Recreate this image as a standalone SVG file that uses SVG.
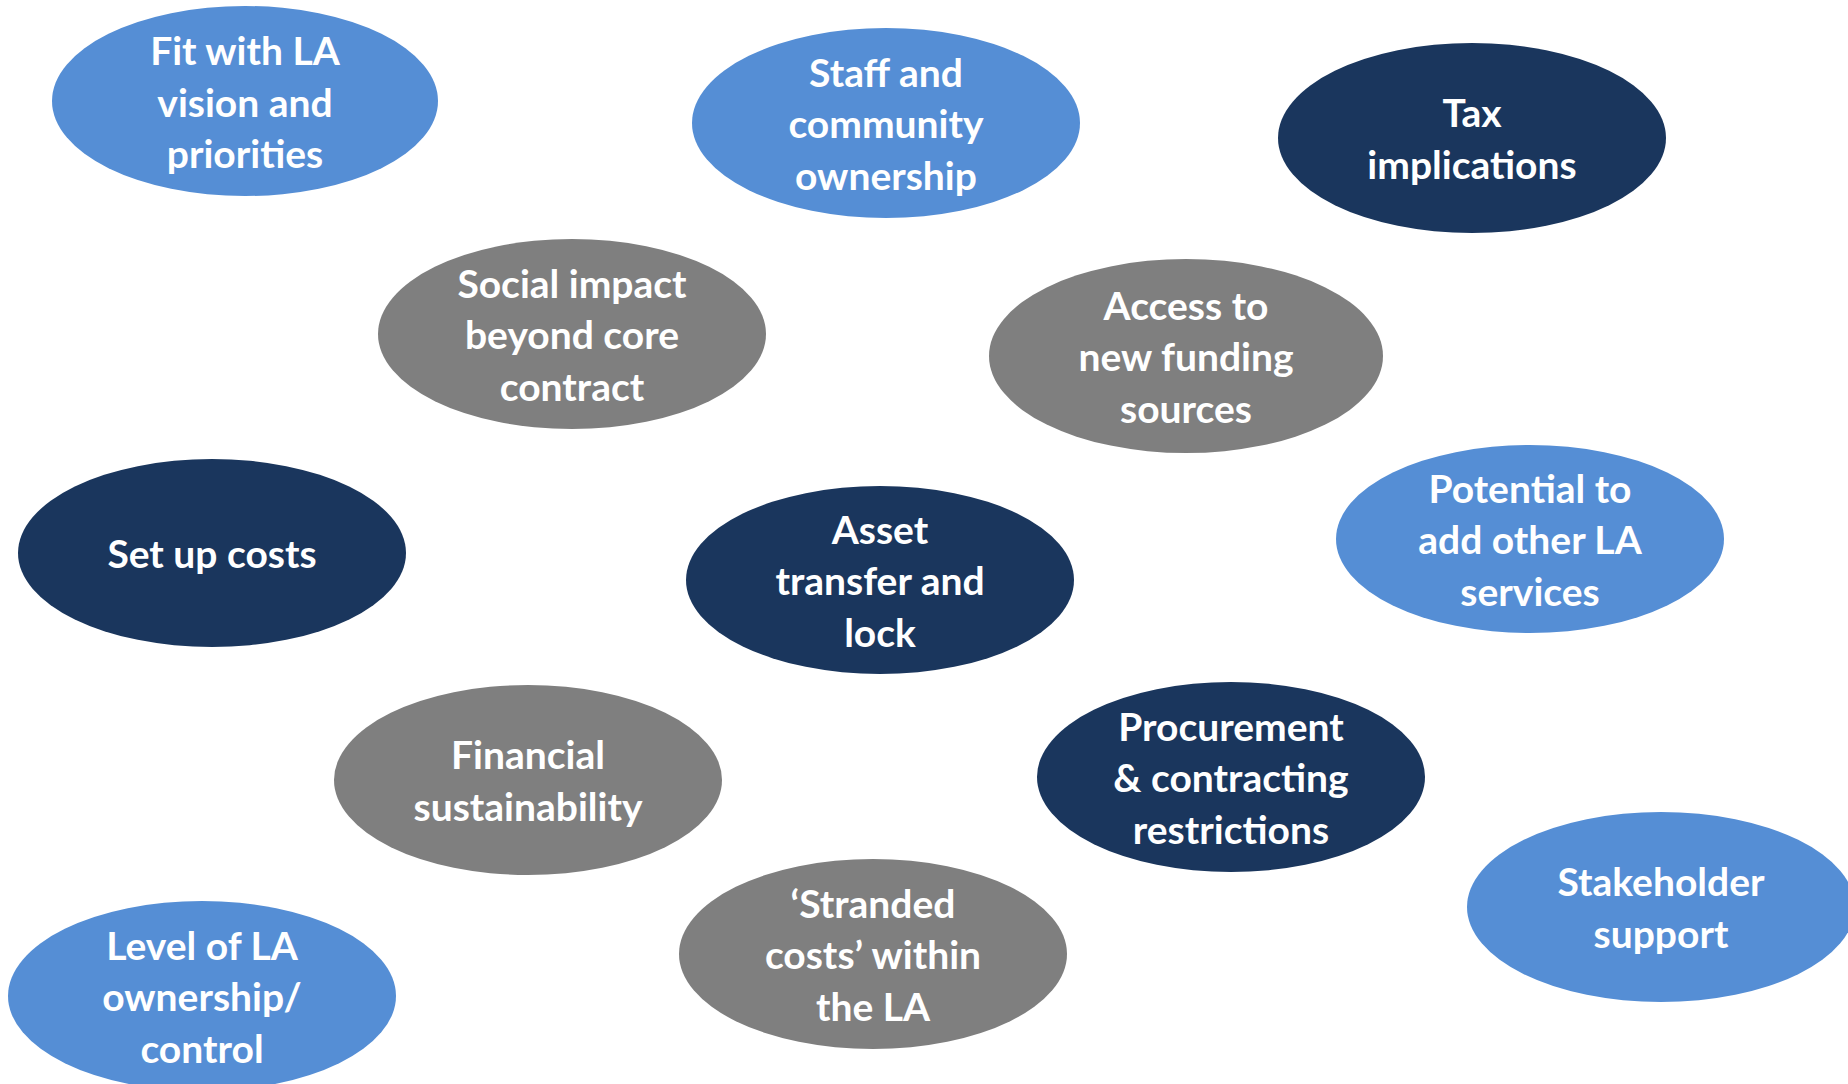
<svg xmlns="http://www.w3.org/2000/svg" width="1848" height="1084" viewBox="0 0 1848 1084">
<style>
.light{fill:#558ED5}
.dark{fill:#1A365D}
.grey{fill:#7F7F7F}
text{font-family:"Lato","Open Sans","Liberation Sans",sans-serif;font-weight:bold;font-size:39px;fill:#FFFFFF;text-anchor:middle}
</style>
<rect width="1848" height="1084" fill="#FFFFFF"/>
<g id="connectors"/>
<g transform="translate(0,2)">
<g id="n-fit"><ellipse class="light" cx="245" cy="99" rx="193" ry="95"/>
<text x="245" y="63">Fit with LA</text><text x="245" y="115">vision and</text><text x="245" y="166">priorities</text></g>
<g id="n-staff"><ellipse class="light" cx="886" cy="121" rx="194" ry="95"/>
<text x="886" y="85">Staff and</text><text x="886" y="136">community</text><text x="886" y="188">ownership</text></g>
<g id="n-tax"><ellipse class="dark" cx="1472" cy="136" rx="194" ry="95"/>
<text x="1472" y="125">Tax</text><text x="1472" y="177">implications</text></g>
<g id="n-social"><ellipse class="grey" cx="572" cy="332" rx="194" ry="95"/>
<text x="572" y="296">Social impact</text><text x="572" y="347">beyond core</text><text x="572" y="399">contract</text></g>
<g id="n-access"><ellipse class="grey" cx="1186" cy="354" rx="197" ry="97"/>
<text x="1186" y="318">Access to</text><text x="1186" y="369">new funding</text><text x="1186" y="421">sources</text></g>
<g id="n-setup"><ellipse class="dark" cx="212" cy="551" rx="194" ry="94"/>
<text x="212" y="566">Set up costs</text></g>
<g id="n-asset"><ellipse class="dark" cx="880" cy="578" rx="194" ry="94"/>
<text x="880" y="542">Asset</text><text x="880" y="593">transfer and</text><text x="880" y="645">lock</text></g>
<g id="n-potential"><ellipse class="light" cx="1530" cy="537" rx="194" ry="94"/>
<text x="1530" y="501">Potential to</text><text x="1530" y="552">add other LA</text><text x="1530" y="604">services</text></g>
<g id="n-financial"><ellipse class="grey" cx="528" cy="778" rx="194" ry="95"/>
<text x="528" y="767">Financial</text><text x="528" y="819">sustainability</text></g>
<g id="n-procurement"><ellipse class="dark" cx="1231" cy="775" rx="194" ry="95"/>
<text x="1231" y="739">Procurement</text><text x="1231" y="790">&amp; contracting</text><text x="1231" y="842">restrictions</text></g>
<g id="n-stakeholder"><ellipse class="light" cx="1661" cy="905" rx="194" ry="95"/>
<text x="1661" y="894">Stakeholder</text><text x="1661" y="946">support</text></g>
<g id="n-stranded"><ellipse class="grey" cx="873" cy="952" rx="194" ry="95"/>
<text x="873" y="916">‘Stranded</text><text x="873" y="967">costs’ within</text><text x="873" y="1019">the LA</text></g>
<g id="n-level"><ellipse class="light" cx="202" cy="994" rx="194" ry="95"/>
<text x="202" y="958">Level of LA</text><text x="202" y="1009">ownership/</text><text x="202" y="1061">control</text></g>
</g>
</svg>
